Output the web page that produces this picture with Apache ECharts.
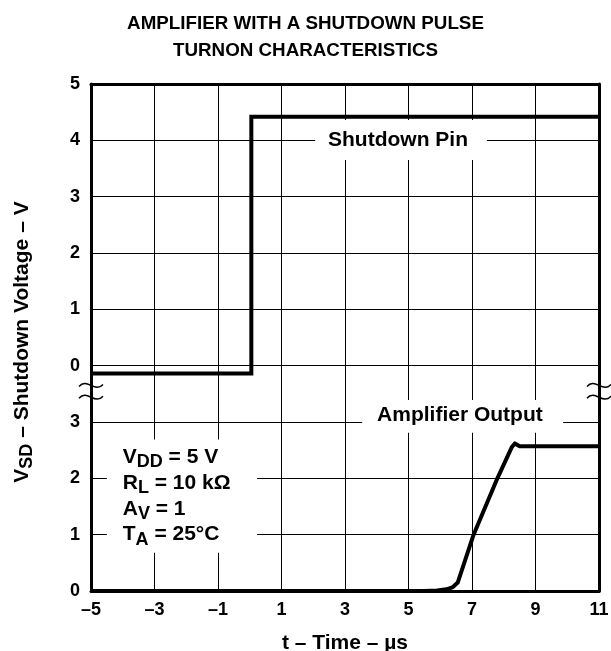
<!DOCTYPE html>
<html><head><meta charset="utf-8">
<script src="https://cdn.jsdelivr.net/npm/echarts@6/dist/echarts.min.js"></script>
<style>html,body{margin:0;padding:0;background:#fff}#c{width:611px;height:651px}</style>
</head><body><div id="c"></div>
<script>
// ---- data ----
const xTickLabels = ['–5', '–3', '–1', '1', '3', '5', '7', '9', '11'];
const topYTicks = [0, 1, 2, 3, 4, 5];
const bottomYTicks = [0, 1, 2, 3];
const shutdownT = [-5, 0.05, 0.05, 11];
const shutdownV = [-0.14, -0.14, 4.42, 4.42];
const outputT = [-5, 5.5, 5.9, 6.2, 6.4, 6.55, 7.05, 7.8, 8.25, 8.35, 8.5, 11];
const outputV = [0, 0, 0.01, 0.03, 0.07, 0.15, 1.0, 2.0, 2.55, 2.62, 2.57, 2.57];

const T0 = -5; // time axis drawn as t - T0 so ticks start on a multiple of the interval
const FONT = 'Liberation Sans, Arial, Helvetica, sans-serif';
const chart = echarts.init(document.getElementById('c'), null, {renderer: 'canvas'});

const frame = {show: true, onZero: false, lineStyle: {color: '#000', width: 3}};
const grid = {show: true, lineStyle: {color: '#000', width: 1}};
const tickLbl = {fontSize: 18, fontWeight: 'bold', color: '#000', fontFamily: FONT};
// top panel axis runs -4..5; only 0..5 get horizontal grid lines
const topSplitColors = [-4, -3, -2, -1, 0, 1, 2, 3, 4, 5].map(v => topYTicks.includes(v) ? '#000' : 'rgba(0,0,0,0)');

const option = {
  animation: false,
  title: {
    text: 'AMPLIFIER WITH A SHUTDOWN PULSE\nTURNON CHARACTERISTICS',
    left: 'center', top: 5,
    textStyle: {fontSize: 18.8, fontWeight: 'bold', color: '#000', fontFamily: FONT, lineHeight: 27}
  },
  grid: [
    {left: 91, top: 84, width: 508, height: 507, outerBoundsMode: 'none', containLabel: false},
    {left: 91, top: 398, width: 508, height: 193, outerBoundsMode: 'none', containLabel: false}
  ],
  xAxis: [
    {gridIndex: 0, type: 'value', min: 0, max: 16, interval: 2, position: 'top',
     axisLine: frame, axisTick: {show: false}, axisLabel: {show: false}, splitLine: grid},
    {gridIndex: 1, type: 'value', min: 0, max: 16, interval: 2, position: 'bottom',
     axisLine: frame, axisTick: {show: false},
     axisLabel: Object.assign({margin: 10, formatter: v => xTickLabels[Math.round(v / 2)] || ''}, tickLbl),
     splitLine: {show: false},
     name: 't – Time – µs', nameLocation: 'middle', nameGap: 42,
     nameTextStyle: {fontSize: 21, fontWeight: 'bold', color: '#000', fontFamily: FONT}}
  ],
  yAxis: [
    {gridIndex: 0, type: 'value', min: -4, max: 5, interval: 1, position: 'left',
     axisLine: frame, axisTick: {show: false},
     axisLabel: Object.assign({margin: 11, formatter: v => topYTicks.includes(v) ? String(v) : ''}, tickLbl),
     splitLine: {show: true, lineStyle: {color: topSplitColors, width: 1}}},
    {gridIndex: 1, type: 'value', min: 0, max: 3.426, interval: 1, position: 'left',
     axisLine: {show: false}, axisTick: {show: false},
     axisLabel: Object.assign({margin: 11, formatter: v => bottomYTicks.includes(v) ? String(v) : ''}, tickLbl),
     splitLine: Object.assign({showMaxLine: false}, grid)},
    {gridIndex: 0, type: 'value', min: -4, max: 5, interval: 1, position: 'right',
     axisLine: frame, axisTick: {show: false}, axisLabel: {show: false}, splitLine: {show: false}}
  ],
  series: [
    {name: 'Shutdown Pin', type: 'line', xAxisIndex: 0, yAxisIndex: 0, showSymbol: false, z: 5,
     lineStyle: {color: '#000', width: 4, join: 'miter'},
     data: shutdownT.map((t, i) => [t - T0, shutdownV[i]])},
    {name: 'Amplifier Output', type: 'line', xAxisIndex: 1, yAxisIndex: 1, showSymbol: false, z: 5,
     lineStyle: {color: '#000', width: 4, join: 'round'},
     data: outputT.map((t, i) => [t - T0, outputV[i]])}
  ]
};
chart.setOption(option);

const pA = (t, v) => chart.convertToPixel({xAxisIndex: 0, yAxisIndex: 0}, [t - T0, v]);
const pB = (t, v) => chart.convertToPixel({xAxisIndex: 1, yAxisIndex: 1}, [t - T0, v]);

const rect = (a, b) => ({type: 'rect', z: 15, shape: {x: a[0], y: a[1], width: b[0] - a[0], height: b[1] - a[1]},
  style: {fill: '#fff'}});
const label = (p, text, size) => ({type: 'text', x: p[0], y: p[1], z: 20,
  style: {text: text, align: 'center', verticalAlign: 'middle', fill: '#000',
          fontSize: size, fontWeight: 'bold', fontFamily: FONT}});

const subRich = (big, small) => ({
  m: {fontSize: big, fontWeight: 'bold', fontFamily: FONT, lineHeight: 28, verticalAlign: 'middle', fill: '#000'},
  s: {fontSize: small, fontWeight: 'bold', fontFamily: FONT, lineHeight: small, verticalAlign: 'bottom', fill: '#000'}
});

const graphics = [];
// series name labels on white boxes
graphics.push(rect(pA(2.06, 4.36), pA(7.47, 3.65)));
graphics.push(label(pA(4.67, 4.0), 'Shutdown Pin', 21));
graphics.push(rect(pB(3.54, 3.39), pB(9.87, 2.81)));
graphics.push(label(pB(6.62, 3.12), 'Amplifier Output', 21));

// test-condition box
graphics.push(rect(pB(-4.5, 2.69), pB(0.23, 0.68)));
const condLines = ['{m|V}{s|DD}{m| = 5 V}', '{m|R}{s|L}{m| = 10 kΩ}', '{m|A}{s|V}{m| = 1}', '{m|T}{s|A}{m| = 25°C}'];
const condY = [2.38, 1.92, 1.45, 1.0];
condLines.forEach((s, i) => {
  const p = pB(-4.0, condY[i]);
  graphics.push({type: 'text', x: p[0], y: p[1], z: 20,
    style: {text: s, rich: subRich(21, 18), align: 'left', verticalAlign: 'middle'}});
});

// y axis title (rotated)
graphics.push({type: 'text', x: 22, y: 342, rotation: Math.PI / 2, z: 20,
  style: {text: '{m|V}{s|SD}{m| – Shutdown Voltage – V}', align: 'center', verticalAlign: 'middle',
    rich: subRich(21, 18)}});

// axis break marks
[-0.35, -0.56].forEach(v => {
  [-5, 11].forEach(t => {
    const p = pA(t, v);
    const x = p[0], y = p[1];
    graphics.push({type: 'bezierCurve', z: 25,
      shape: {x1: x - 12, y1: y + 1, cpx1: x - 4, cpy1: y - 8, cpx2: x + 4, cpy2: y + 8, x2: x + 12, y2: y - 1},
      style: {stroke: '#000', lineWidth: 1.5, fill: null}});
  });
});

chart.setOption({graphic: graphics});
</script>
</body></html>
